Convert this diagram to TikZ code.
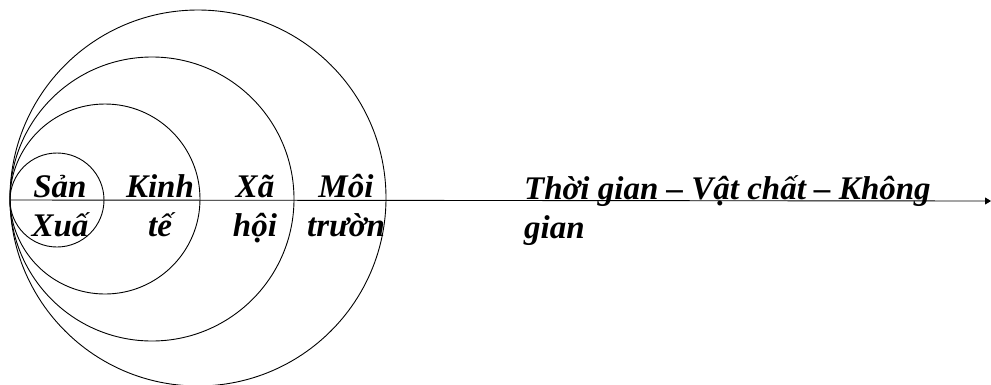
\documentclass[tikz,border=0pt]{standalone}
\usepackage{fontspec}
\setmainfont{Liberation Serif}
\usepackage{tikz}
\usetikzlibrary{arrows.meta,positioning}

\begin{document}
\begin{tikzpicture}[
  x=1pt, y=-1pt,
  ring/.style={
    circle, draw=black, line width=0.9pt,
    inner sep=0pt, outer sep=0pt,
  },
  label/.style={
    inner sep=0pt, anchor=base, align=center,
    font=\fontsize{33}{39}\selectfont\bfseries\itshape,
  },
  axis/.style={line width=0.9pt, -{Triangle[length=6pt,width=7pt]}},
]
\useasboundingbox (0,0) rectangle (991,384);

% nested circles, all touching at the left
\node[ring, minimum size=94pt]  (sx) at (57,200) {};
\node[ring, minimum size=190pt] (kt) at (105,199) {};
\node[ring, minimum size=284pt] (xh) at (152,199) {};
\node[ring, minimum size=376pt] (mt) at (198,198) {};

% axis
\coordinate (tip) at (991,201);
\draw[axis] (sx.west) -- (tip);

% labels (anchored on the second line)
\node[label] (lsx) at (60,236)  {Sản\\Xuấ};
\node[label] (lkt) at (160,236) {Kinh\\tế};
\node[label] (lxh) at (255,236) {Xã\\hội};
\node[label] (lmt) at (346,236) {Môi\\trườn};
\node[label, align=left, anchor=base west] (ltg) at (524,238) {Thời gian -- Vật chất -- Không\\gian};

\end{tikzpicture}
\end{document}
